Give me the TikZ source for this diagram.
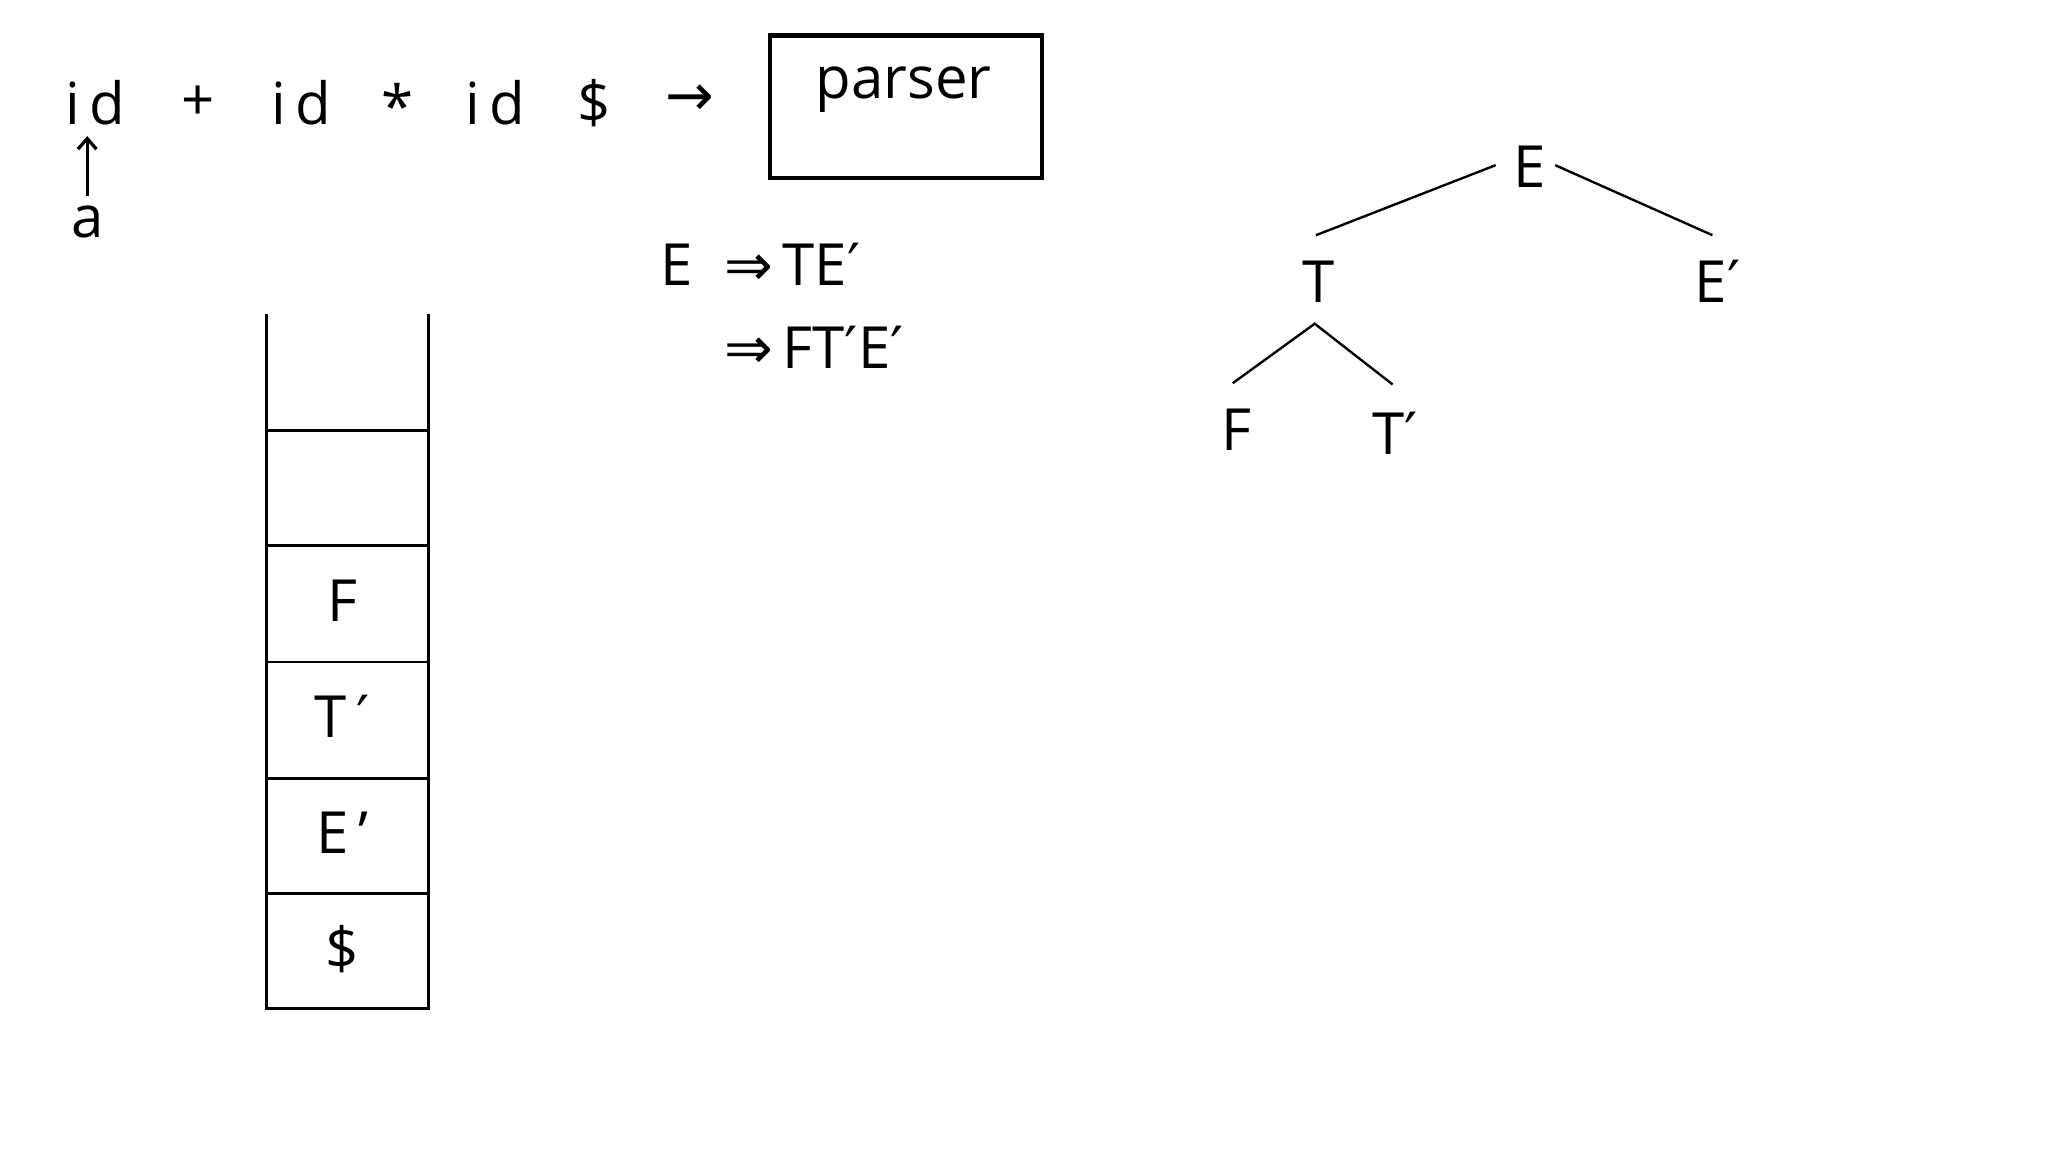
\documentclass[tikz,border=0pt]{standalone}
\usepackage{fontspec}
\usetikzlibrary{arrows.meta}
\setmainfont{Open Sans}
\newfontfamily\symf{DejaVu Sans}
\newcommand{\pr}{{\symf ′}}
\begin{document}
\begin{tikzpicture}[x=1pt,y=-1pt,
  txt/.style={inner sep=0pt,font=\fontsize{44}{50}\selectfont},
  ln/.style={line width=2.2pt},
  tr/.style={line width=1.8pt}]
\useasboundingbox (0,0) rectangle (1550,872);
% input
\node[txt] (i1) at (72,78) {i\,d};
\node[txt] (p) at (150,78) {+};
\node[txt] (i2) at (228,78) {i\,d};
\node[txt] (s) at (301,80) {*};
\node[txt] (i3) at (375,78) {i\,d};
\node[txt] (d) at (450,78) {\$};
\node[txt] (ar) at (522,76) {\symf →};
\node[draw,line width=3.5pt,minimum width=206pt,minimum height=108pt,anchor=north west,inner sep=0pt] (parser) at (581,25) {};
\node[txt] (pt) at (684,68) {parser};
\node[txt] (a) at (66,168) {a};
\coordinate (at) at (66,103);
\draw[line width=2.5pt,-{Straight Barb[length=8pt,width=14pt]}] (66,148) -- (at);
% stack
\draw[ln] (202,238) -- (202,763) -- (324,763) -- (324,238);
\foreach \y in {326,413,501,589,676} \draw[ln] (202,\y) -- (324,\y);
\node[txt] (sF) at (259,455) {F};
\node[txt] (sT) at (259,542) {T\,\pr};
\node[txt] (sE) at (259,630) {E\,'};
\node[txt] (sD) at (259,718) {\$};
% derivation
\node[txt] (dE) at (512,200) {E};
\node[txt,anchor=west] (d1) at (548,200) {{\symf ⇒}\,TE\pr};
\node[txt,anchor=west] (d2) at (548,263) {{\symf ⇒}\,FT\pr E\pr};
% tree
\node[txt] (tE) at (1158,126) {E};
\node[txt] (tT) at (998,213) {T};
\node[txt] (tE2) at (1300,213) {E\pr};
\node[txt] (tF) at (936,325) {F};
\node[txt] (tT2) at (1056,328) {T\pr};
\draw[tr] (996,178) -- (1132,125);
\draw[tr] (1177,125) -- (1296,178);
\draw[tr] (933,290) -- (995,245) -- (1054,291);
\end{tikzpicture}
\end{document}
